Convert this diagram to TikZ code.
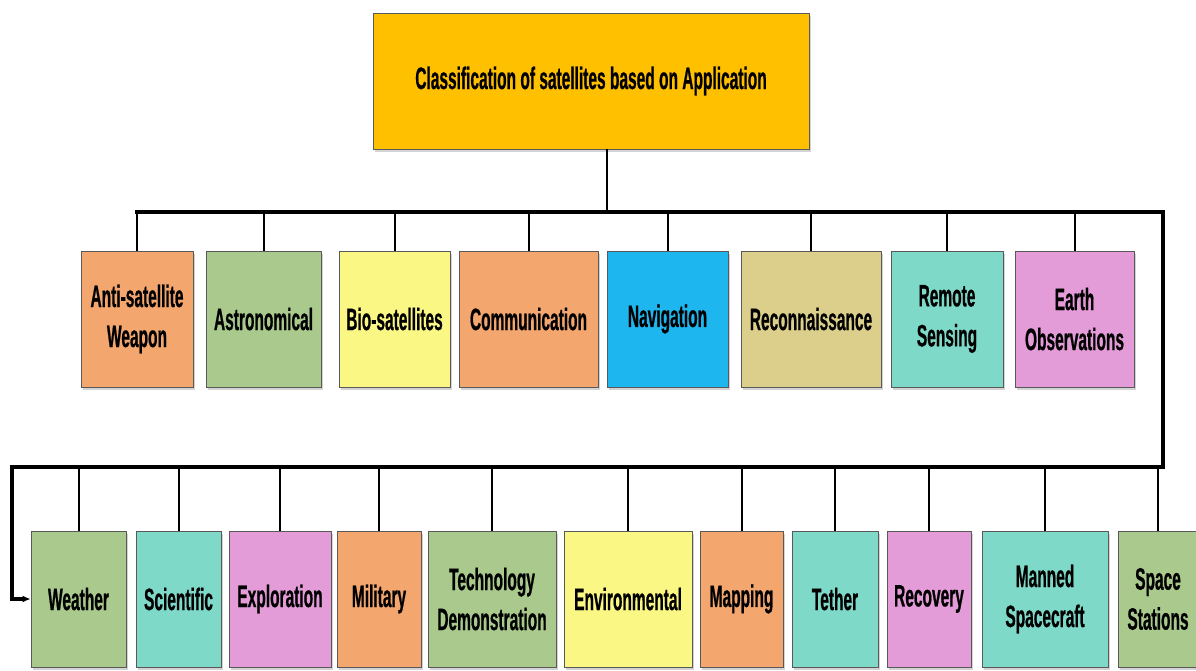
\documentclass[tikz,border=0pt]{standalone}
\usepackage{fontspec}
\usepackage{tikz}
\usetikzlibrary{shadows,arrows.meta}
\newfontfamily\boxfont{Liberation Sans}[FakeStretch=0.5, BoldFeatures={FakeBold=0.6}]

\definecolor{cgold}{HTML}{FFC000}
\definecolor{corange}{HTML}{F4A66F}
\definecolor{cgreen}{HTML}{A9CA8C}
\definecolor{cyellow}{HTML}{FAF785}
\definecolor{cblue}{HTML}{1DB6EF}
\definecolor{ckhaki}{HTML}{DCCF8C}
\definecolor{cteal}{HTML}{7FD9C9}
\definecolor{cpink}{HTML}{E39CD8}

\tikzset{
  catbox/.style={draw=black!65, line width=0.8pt, align=center, inner sep=2pt,
    minimum height=136pt, text=black,
    font={\boxfont\bfseries\fontsize{31}{40}\selectfont},
    drop shadow={shadow xshift=2pt, shadow yshift=-3pt, opacity=0.35}},
  bus/.style={line width=3.4pt, line cap=rect},
  stub/.style={line width=2pt},
}

\begin{document}
\begin{tikzpicture}[x=1pt,y=-1pt]

  \newcommand\Ytop{319}
  \newcommand\Ylow{599}

  \useasboundingbox (0,0) rectangle (1196,671);

  \node[catbox, fill=cgold, minimum width=436pt, minimum height=136pt] (title) at (591,81)
    {Classification of satellites based on Application};

  %% first row
  \node[catbox, fill=corange, minimum width=112pt] (anti)   at (137,\Ytop)  {Anti-satellite\\Weapon};
  \node[catbox, fill=cgreen,  minimum width=115pt] (astro)  at (263.5,\Ytop) {Astronomical};
  \node[catbox, fill=cyellow, minimum width=111pt] (bio)    at (394.5,\Ytop) {Bio-satellites};
  \node[catbox, fill=corange, minimum width=139pt] (comm)   at (528.5,\Ytop) {Communication};
  \node[catbox, fill=cblue,   minimum width=121pt] (navi)   at (667.5,\Ytop) {Navigation};
  \node[catbox, fill=ckhaki,  minimum width=140pt] (recon)  at (811,\Ytop)   {Reconnaissance};
  \node[catbox, fill=cteal,   minimum width=112pt] (remote) at (947,\Ytop)   {Remote\\Sensing};
  \node[catbox, fill=cpink,   minimum width=119pt] (earth)  at (1074.5,\Ytop) {Earth\\Observations};

  %% second row
  \node[catbox, fill=cgreen,  minimum width=95pt]  (weather) at (78.5,\Ylow)  {Weather};
  \node[catbox, fill=cteal,   minimum width=85pt]  (sci)     at (178.5,\Ylow) {Scientific};
  \node[catbox, fill=cpink,   minimum width=102pt] (explo)   at (280,\Ylow)   {Exploration};
  \node[catbox, fill=corange, minimum width=84pt]  (mil)     at (379,\Ylow)   {Military};
  \node[catbox, fill=cgreen,  minimum width=128pt] (tech)    at (492,\Ylow)   {Technology\\Demonstration};
  \node[catbox, fill=cyellow, minimum width=128pt] (envi)    at (628,\Ylow)   {Environmental};
  \node[catbox, fill=corange, minimum width=83pt]  (mapping) at (741.5,\Ylow) {Mapping};
  \node[catbox, fill=cteal,   minimum width=86pt]  (tether)  at (835,\Ylow)   {Tether};
  \node[catbox, fill=cpink,   minimum width=84pt]  (recov)   at (929,\Ylow)   {Recovery};
  \node[catbox, fill=cteal,   minimum width=126pt] (manned)  at (1045,\Ylow)  {Manned\\Spacecraft};
  \node[catbox, fill=cgreen,  minimum width=80pt]  (station) at (1158,\Ylow)  {Space\\Stations};

  %% bus corners
  \coordinate (tr) at (1163,212);
  \coordinate (br) at (1163,467);
  \coordinate (bl) at (12,467);

  \draw[stub] ([xshift=16pt]title.south) -- ([xshift=16pt]title.south |- tr);
  \draw[bus, -{Latex[length=8pt,width=7pt]}] (anti.north |- tr) -- (tr) -- (br) -- (bl) |- (weather.west);

  \foreach \n in {anti,astro,bio,comm,navi,recon,remote,earth}
    \draw[stub] (\n.north) -- (\n.north |- tr);
  \foreach \n in {weather,sci,explo,mil,tech,envi,mapping,tether,recov,manned,station}
    \draw[stub] (\n.north) -- (\n.north |- br);

\end{tikzpicture}
\end{document}
